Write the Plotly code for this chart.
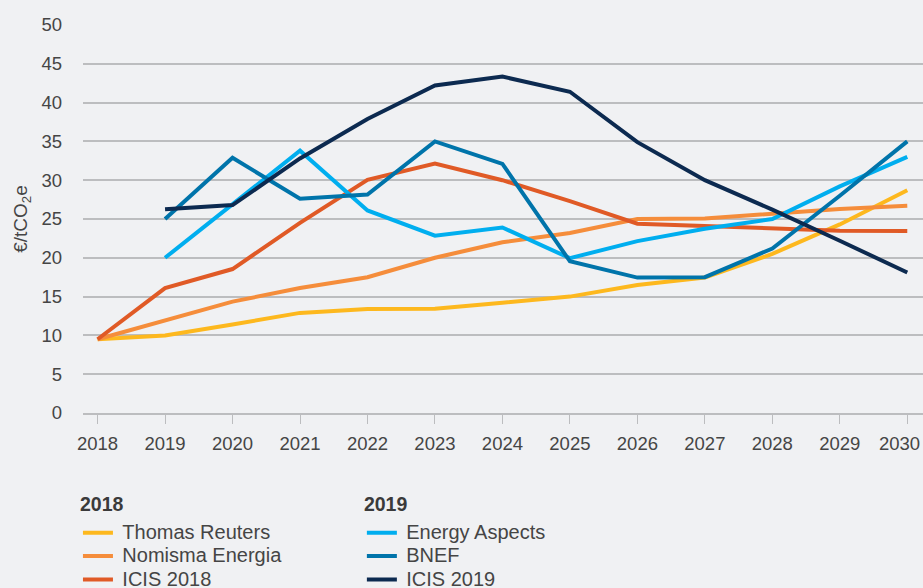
import plotly.graph_objects as go

years = [2018, 2019, 2020, 2021, 2022, 2023, 2024, 2025, 2026, 2027, 2028, 2029, 2030]
year_labels = ["2018", "2019", "2020", "2021", "2022", "2023", "2024", "2025",
               "2026", "2027", "2028", "2029", "2030\u00a0\u00a0\u00a0"]

thomas_reuters = [9.5, 10.0, 11.4, 12.9, 13.4, 13.45, 14.2, 15.0, 16.5, 17.45, 20.5, 24.3, 28.7]
nomisma_energia = [9.5, 11.9, 14.35, 16.1, 17.5, 20.0, 22.0, 23.2, 25.0, 25.05, 25.7, 26.3, 26.7]
icis_2018 = [9.5, 16.1, 18.55, 24.5, 30.05, 32.15, 30.0, 27.3, 24.4, 24.1, 23.75, 23.5, 23.45]
energy_aspects = [None, 20.0, 26.9, 33.8, 26.1, 22.85, 23.9, 19.95, 22.15, 23.75, 25.0, 29.2, 33.0]
bnef = [None, 25.0, 32.9, 27.6, 28.15, 35.0, 32.1, 19.55, 17.45, 17.5, 21.2, 28.0, 35.0]
icis_2019 = [None, 26.25, 26.8, 32.8, 37.9, 42.2, 43.35, 41.4, 34.9, 30.0, 26.2, 22.2, 18.1]

y_ticks = [0, 5, 10, 15, 20, 25, 30, 35, 40, 45, 50]

series = [
    ("Thomas Reuters", thomas_reuters, "#FDB81E", "legend"),
    ("Nomisma Energia", nomisma_energia, "#F58D3B", "legend"),
    ("ICIS 2018", icis_2018, "#E05A26", "legend"),
    ("Energy Aspects", energy_aspects, "#00AEEF", "legend2"),
    ("BNEF", bnef, "#0074AA", "legend2"),
    ("ICIS 2019", icis_2019, "#0C2A50", "legend2"),
]

FONT = "Liberation Sans, Arial, sans-serif"
TEXT = "#454545"
GRID = "#BCBDBF"
BG = "#F0F1F3"

fig = go.Figure()
for name, vals, color, lg in series:
    fig.add_trace(go.Scatter(
        x=years, y=vals, mode="lines",
        name="\u00a0<span style='font-size:20px'>" + name + "</span>",
        line=dict(color=color, width=4), legend=lg,
        connectgaps=False, hoverinfo="x+y",
    ))

legend_common = dict(
    orientation="v", xanchor="left", yanchor="top",
    font=dict(family=FONT, size=15.7, color=TEXT),
    bgcolor="rgba(0,0,0,0)", borderwidth=0,
    tracegroupgap=0, itemclick=False, itemdoubleclick=False,
)
title_font = dict(family=FONT, size=24, color="#3A3A3A")
LEG_Y = -0.185
TITLE_STYLE = "font-size:19.5px;baseline-shift:5px"

fig.update_layout(
    width=923, height=588,
    margin=dict(l=83, r=0, t=25, b=175, autoexpand=False),
    paper_bgcolor=BG, plot_bgcolor=BG,
    font=dict(family=FONT, size=18, color=TEXT),
    showlegend=True,
    legend=dict(
        x=-0.006, y=LEG_Y,
        title=dict(text="<span style='" + TITLE_STYLE + "'><b>2018</b></span>", font=title_font),
        **legend_common,
    ),
    legend2=dict(
        x=0.332, y=LEG_Y,
        title=dict(text="<span style='" + TITLE_STYLE + "'><b>2019</b></span>", font=title_font),
        **legend_common,
    ),
    xaxis=dict(
        range=[2017.784, 2030.233],
        tickmode="array", tickvals=years, ticktext=year_labels,
        ticklabeloverflow="allow",
        showgrid=False, zeroline=False,
        showline=True, linecolor=GRID, linewidth=1.5,
        ticks="outside", ticklen=9, tickwidth=1.2, tickcolor=GRID,
        ticklabelstandoff=4,
        tickfont=dict(family=FONT, size=18.5, color=TEXT),
        fixedrange=True,
    ),
    yaxis=dict(
        range=[0, 50],
        tickmode="array", tickvals=y_ticks, ticktext=[str(v) for v in y_ticks],
        showgrid=True, gridcolor=GRID, gridwidth=1.5,
        zeroline=False, showline=False, ticks="",
        ticklabelstandoff=20,
        tickfont=dict(family=FONT, size=18.5, color=TEXT),
        title=dict(text="\u00a0\u00a0\u2009€/tCO<sub>2</sub>e", font=dict(family=FONT, size=19, color=TEXT), standoff=8),
        fixedrange=True,
    ),
)

fig.write_html(
    "out.html",
    config={"displayModeBar": False},
    post_script="document.body.style.margin='0';document.body.style.overflow='hidden';",
)
